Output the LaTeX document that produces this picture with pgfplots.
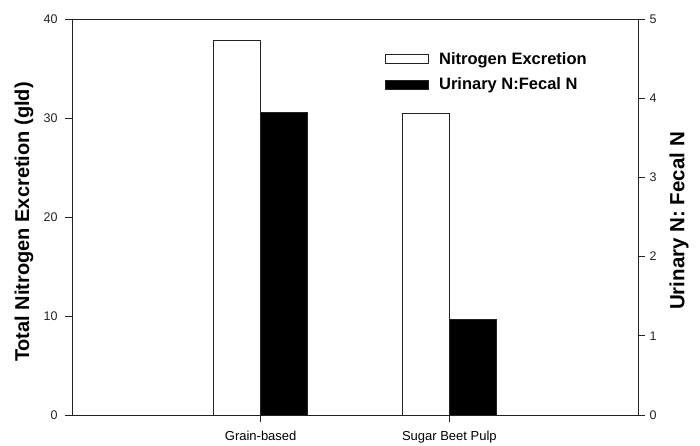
\documentclass[border=0pt]{standalone}
\usepackage{pgfplots}
\pgfplotsset{compat=1.18}
\usepackage{fontspec}
\setmainfont{Liberation Sans}
\definecolor{axgray}{HTML}{222222}
\begin{document}
\begin{tikzpicture}
\useasboundingbox (0,0) rectangle (700pt,445pt);
\pgfplotsset{
  common/.style={
    at={(72pt,30pt)}, anchor=south west, scale only axis,
    width=566pt, height=396pt,
    xmin=-1, xmax=2,
    tick align=outside, major tick length=7pt,
    axis line style={draw=axgray, line width=0.9pt},
    tick style={draw=axgray, line width=0.9pt},
    /pgf/number format/assume math mode=true,
    ticklabel style={font=\fontsize{12.5}{14}\selectfont, text=axgray},
    ybar, bar width=0.25,
  }
}
\begin{axis}[common,
  ymin=0, ymax=40, ytick={0,10,20,30,40},
  xtick={0,1}, xticklabels={Grain-based,Sugar Beet Pulp},
  xticklabel style={font=\fontsize{13}{15}\selectfont, text=black, yshift=-6pt},
  yticklabel style={xshift=-4pt},
  xtick pos=bottom, ytick pos=left,
  ylabel={Total Nitrogen Excretion (gld)},
  ylabel style={at={(rel axis cs:-0.0848,0.487)}, anchor=center, font=\bfseries\fontsize{20}{24}\selectfont},
]
\addplot[bar shift=-0.125, draw=axgray, line width=0.9pt, fill=white] coordinates {(0,37.8) (1,30.5)};
\end{axis}
\begin{axis}[common,
  ymin=0, ymax=5, ytick={0,1,2,3,4,5},
  axis x line=none, axis y line*=right,
  yticklabel style={xshift=1pt},
  ylabel={Urinary N: Fecal N},
  ylabel style={at={(rel axis cs:1.0727,0.49)}, anchor=center, font=\bfseries\fontsize{20.5}{24}\selectfont},
  legend style={draw=none, fill=none, at={(rel axis cs:0.553,0.917)}, anchor=north west,
    inner sep=0pt, nodes={inner sep=0pt}, row sep=12.5pt, column sep=10pt,
    font=\bfseries\fontsize{16.5}{20}\selectfont},
  legend cell align=left,
  legend image code/.code={\draw[#1, line width=0.9pt] (0pt,-4.5pt) rectangle (43pt,4.5pt);},
]
\addlegendimage{draw=axgray, fill=white}
\addlegendentry{Nitrogen Excretion}
\addplot[bar shift=0.125, draw=axgray, line width=0.9pt, fill=black] coordinates {(0,3.82) (1,1.21)};
\addlegendentry{Urinary N:Fecal N}
\end{axis}
\end{tikzpicture}
\end{document}
